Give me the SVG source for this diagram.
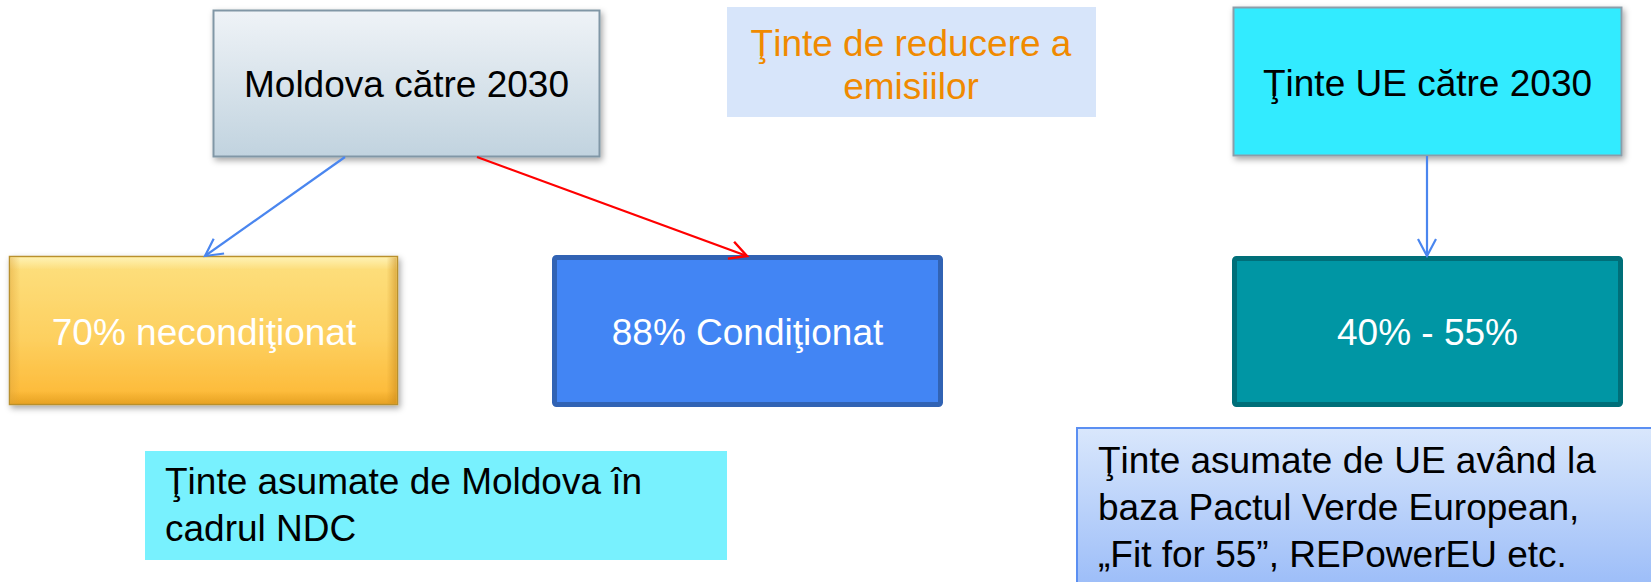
<svg xmlns="http://www.w3.org/2000/svg" width="1651" height="582" viewBox="0 0 1651 582">
  <defs>
    <style>
      text { font-family: "Liberation Sans", Arial, sans-serif; font-size: 37px; }
      .ctr { text-anchor: middle; }
      .dark { fill: #000000; }
      .light { fill: #ffffff; }
      .orange { fill: #f08a00; }
      .conn { fill: none; stroke-width: 2.2; }
    </style>
    <linearGradient id="gSteel" x1="0" y1="0" x2="0" y2="1">
      <stop offset="0" stop-color="#eff3f7"/>
      <stop offset="1" stop-color="#c1d3df"/>
    </linearGradient>
    <linearGradient id="gGold" x1="0" y1="0" x2="0" y2="1">
      <stop offset="0" stop-color="#fde07f"/>
      <stop offset="0.55" stop-color="#fdd060"/>
      <stop offset="1" stop-color="#fdb733"/>
    </linearGradient>
    <!-- bevel highlights for the gold box -->
    <linearGradient id="bevTop" x1="0" y1="0" x2="0" y2="1">
      <stop offset="0" stop-color="#fff3b8" stop-opacity="0.9"/>
      <stop offset="1" stop-color="#fff3b8" stop-opacity="0"/>
    </linearGradient>
    <linearGradient id="bevBottom" x1="0" y1="0" x2="0" y2="1">
      <stop offset="0" stop-color="#d8951a" stop-opacity="0"/>
      <stop offset="1" stop-color="#d8951a" stop-opacity="0.6"/>
    </linearGradient>
    <linearGradient id="bevLeft" x1="0" y1="0" x2="1" y2="0">
      <stop offset="0" stop-color="#e0a53a" stop-opacity="0.45"/>
      <stop offset="1" stop-color="#e0a53a" stop-opacity="0"/>
    </linearGradient>
    <linearGradient id="bevRight" x1="0" y1="0" x2="1" y2="0">
      <stop offset="0" stop-color="#c98a1c" stop-opacity="0"/>
      <stop offset="1" stop-color="#c98a1c" stop-opacity="0.55"/>
    </linearGradient>
    <linearGradient id="gSky" x1="0" y1="0" x2="0" y2="1">
      <stop offset="0" stop-color="#d9e7fc"/>
      <stop offset="1" stop-color="#8cb2f7"/>
    </linearGradient>
    <filter id="shadow" x="-10%" y="-10%" width="125%" height="130%">
      <feDropShadow dx="2" dy="3" stdDeviation="3" flood-color="#000000" flood-opacity="0.35"/>
    </filter>
    <marker id="headBlue" markerUnits="userSpaceOnUse" markerWidth="24" markerHeight="24" refX="20" refY="11" orient="auto">
      <path d="M3,2 L20,11 L3,20" fill="none" stroke="#4a86ef" stroke-width="2.2"/>
    </marker>
    <marker id="headRed" markerUnits="userSpaceOnUse" markerWidth="24" markerHeight="24" refX="20" refY="11" orient="auto">
      <path d="M3,2 L20,11 L3,20" fill="none" stroke="#ff0000" stroke-width="2.4"/>
    </marker>
  </defs>

  <rect width="1651" height="582" fill="#ffffff"/>

  <!-- Moldova 2030 -->
  <g id="moldova">
    <rect x="213.5" y="10.5" width="386" height="146" fill="url(#gSteel)" stroke="#8197a6" stroke-width="2" filter="url(#shadow)"/>
    <text class="ctr dark" x="406.5" y="97">Moldova către 2030</text>
  </g>

  <!-- Emission reduction title -->
  <g id="titlu">
    <rect x="727" y="7" width="369" height="110" fill="#d7e5fa"/>
    <text class="ctr orange" x="911" y="56">Ţinte de reducere a</text>
    <text class="ctr orange" x="911" y="99">emisiilor</text>
  </g>

  <!-- EU 2030 -->
  <g id="ue">
    <rect x="1233.5" y="7.5" width="388" height="148" fill="#33ebff" stroke="#8b9da9" stroke-width="2" filter="url(#shadow)"/>
    <text class="ctr dark" x="1427.5" y="96">Ţinte UE către 2030</text>
  </g>

  <!-- 70% unconditional -->
  <g id="neconditionat">
    <rect x="9.5" y="256.5" width="388" height="148" fill="url(#gGold)" stroke="#b8902f" stroke-width="1.5" filter="url(#shadow)"/>
    <rect x="10.5" y="257.5" width="386" height="12" fill="url(#bevTop)"/>
    <rect x="10.5" y="391" width="386" height="13" fill="url(#bevBottom)"/>
    <rect x="10.5" y="257.5" width="10" height="146" fill="url(#bevLeft)"/>
    <rect x="386.5" y="257.5" width="10" height="146" fill="url(#bevRight)"/>
    <text class="ctr light" x="204" y="345">70% necondiţionat</text>
  </g>

  <!-- 88% conditional -->
  <g id="conditionat">
    <rect x="554.5" y="257.5" width="386" height="147" rx="2" fill="#4285f4" stroke="#3163b4" stroke-width="5"/>
    <text class="ctr light" x="747.5" y="345">88% Condiţionat</text>
  </g>

  <!-- 40% - 55% -->
  <g id="procent-ue">
    <rect x="1234.5" y="258.5" width="386" height="146" rx="2" fill="#0096a4" stroke="#006f79" stroke-width="5"/>
    <text class="ctr light" x="1427.5" y="345">40% - 55%</text>
  </g>

  <!-- NDC note -->
  <g id="ndc">
    <rect x="145" y="451" width="582" height="109" fill="#78f1fe"/>
    <text class="dark" x="165" y="494">Ţinte asumate de Moldova în</text>
    <text class="dark" x="165" y="541">cadrul NDC</text>
  </g>

  <!-- EU commitments note -->
  <g id="pact-verde">
    <rect x="1077" y="428" width="600" height="200" fill="url(#gSky)" stroke="#5b8ff2" stroke-width="2"/>
    <text class="dark" x="1098" y="473">Ţinte asumate de UE având la</text>
    <text class="dark" x="1098" y="520">baza Pactul Verde European,</text>
    <text class="dark" x="1098" y="567">„Fit for 55”, REPowerEU etc.</text>
  </g>

  <!-- connectors -->
  <g id="connectors">
    <line class="conn" x1="345" y1="157" x2="205" y2="256" stroke="#4a86ef" marker-end="url(#headBlue)"/>
    <line class="conn" x1="477" y1="157" x2="747" y2="256" stroke="#ff0000" stroke-width="2.4" marker-end="url(#headRed)"/>
    <line class="conn" x1="1427" y1="156" x2="1427" y2="256" stroke="#4a86ef" stroke-width="1.8" marker-end="url(#headBlue)"/>
  </g>
</svg>
